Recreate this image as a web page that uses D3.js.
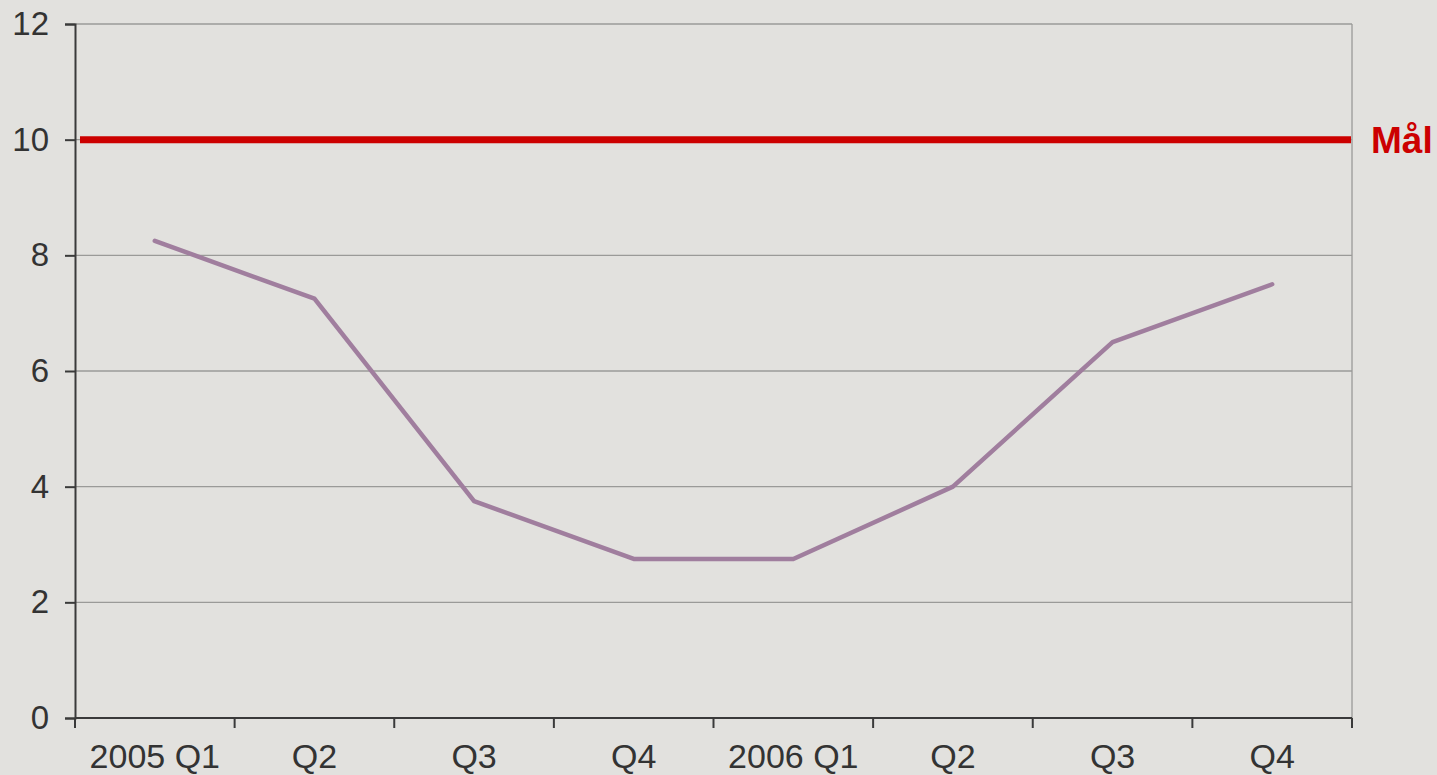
<!DOCTYPE html>
<html>
<head>
<meta charset="utf-8">
<script src="https://cdn.jsdelivr.net/npm/d3@7"></script>
<style>
  body { margin: 0; background: #e2e1de; }
  svg { display: block; font-family: "Liberation Sans", Arial, sans-serif; }
</style>
</head>
<body>
<svg id="chart" width="1437" height="775"></svg>
<script>
'use strict'

// data
let quarters = ['2005 Q1', 'Q2', 'Q3', 'Q4', '2006 Q1', 'Q2 ', 'Q3 ', 'Q4 ']
let values = [8.25, 7.25, 3.75, 2.75, 2.75, 4.0, 6.5, 7.5]
let yTicks = [0, 2, 4, 6, 8, 10, 12]
let target = 10
let targetLabel = 'Mål'

let svg = d3.select('#chart')
let padding = {top: 24, left: 75, right: 85, bottom: 57}
let width = 1437, height = 775

let xScale = d3.scaleBand().domain(quarters).range([padding.left, width - padding.right])
let yScale = d3.scaleLinear().domain([0, 12]).range([height - padding.bottom, padding.top])

// grid
svg.append('g').selectAll('line')
  .data(yTicks.filter(function(t){ return t > 0 }))
  .enter().append('line')
  .attr('x1', padding.left).attr('x2', width - padding.right)
  .attr('y1', function(d){ return yScale(d) }).attr('y2', function(d){ return yScale(d) })
  .attr('stroke', '#9a9a98').attr('stroke-width', 1.3)

svg.append('line')
  .attr('x1', width - padding.right).attr('x2', width - padding.right)
  .attr('y1', yScale(12)).attr('y2', yScale(0))
  .attr('stroke', '#9a9a98').attr('stroke-width', 1.3)

// axes
let yAxis = svg.append('g')
  .attr('transform', 'translate(' + padding.left + ',0)')
  .call(d3.axisLeft(yScale).tickValues(yTicks).tickSize(10).tickPadding(16))
let xAxis = svg.append('g')
  .attr('transform', 'translate(0,' + yScale(0) + ')')
  .call(d3.axisBottom(xScale).tickSize(0).tickPadding(26).tickFormat(function(d){ return d.trim() }))

// band boundary ticks
let bounds = quarters.map(function(q){ return xScale(q) })
bounds.push(xScale(quarters[quarters.length - 1]) + xScale.bandwidth())
xAxis.selectAll('.bound').data(bounds).enter().append('line')
  .attr('class', 'bound')
  .attr('x1', function(d){ return d }).attr('x2', function(d){ return d })
  .attr('y1', 0).attr('y2', 10)
  .attr('stroke', '#3a3a3a').attr('stroke-width', 2)

;[yAxis, xAxis].forEach(function(a){
  a.select('.domain').attr('stroke', '#3a3a3a').attr('stroke-width', 2)
  a.selectAll('.tick line').attr('stroke', '#3a3a3a').attr('stroke-width', 2)
  a.selectAll('.tick text').attr('fill', '#333').style('font-size', '33px')
    .style('font-family', '"Liberation Sans", Arial, sans-serif')
})
xAxis.selectAll('.tick text').style('font-size', '34px')
xAxis.select('.domain').attr('d', 'M' + padding.left + ',0H' + (width - padding.right))

// target line
svg.append('line')
  .attr('x1', padding.left + 5).attr('x2', width - padding.right - 1)
  .attr('y1', yScale(target)).attr('y2', yScale(target))
  .attr('stroke', '#cc0000').attr('stroke-width', 7)

svg.append('text')
  .attr('x', 1371).attr('y', yScale(target))
  .attr('dy', '0.36em')
  .attr('fill', '#cc0000')
  .style('font-size', '37px').style('font-weight', 'bold')
  .text(targetLabel)

// series
let line = d3.line()
  .x(function(d, i){ return xScale(quarters[i]) + xScale.bandwidth() / 2 })
  .y(function(d){ return yScale(d) })

svg.append('path')
  .datum(values)
  .attr('fill', 'none')
  .attr('stroke', '#a07e9e')
  .attr('stroke-width', 4.5)
  .attr('stroke-linecap', 'round')
  .attr('stroke-linejoin', 'round')
  .attr('d', line)
</script>
</body>
</html>
